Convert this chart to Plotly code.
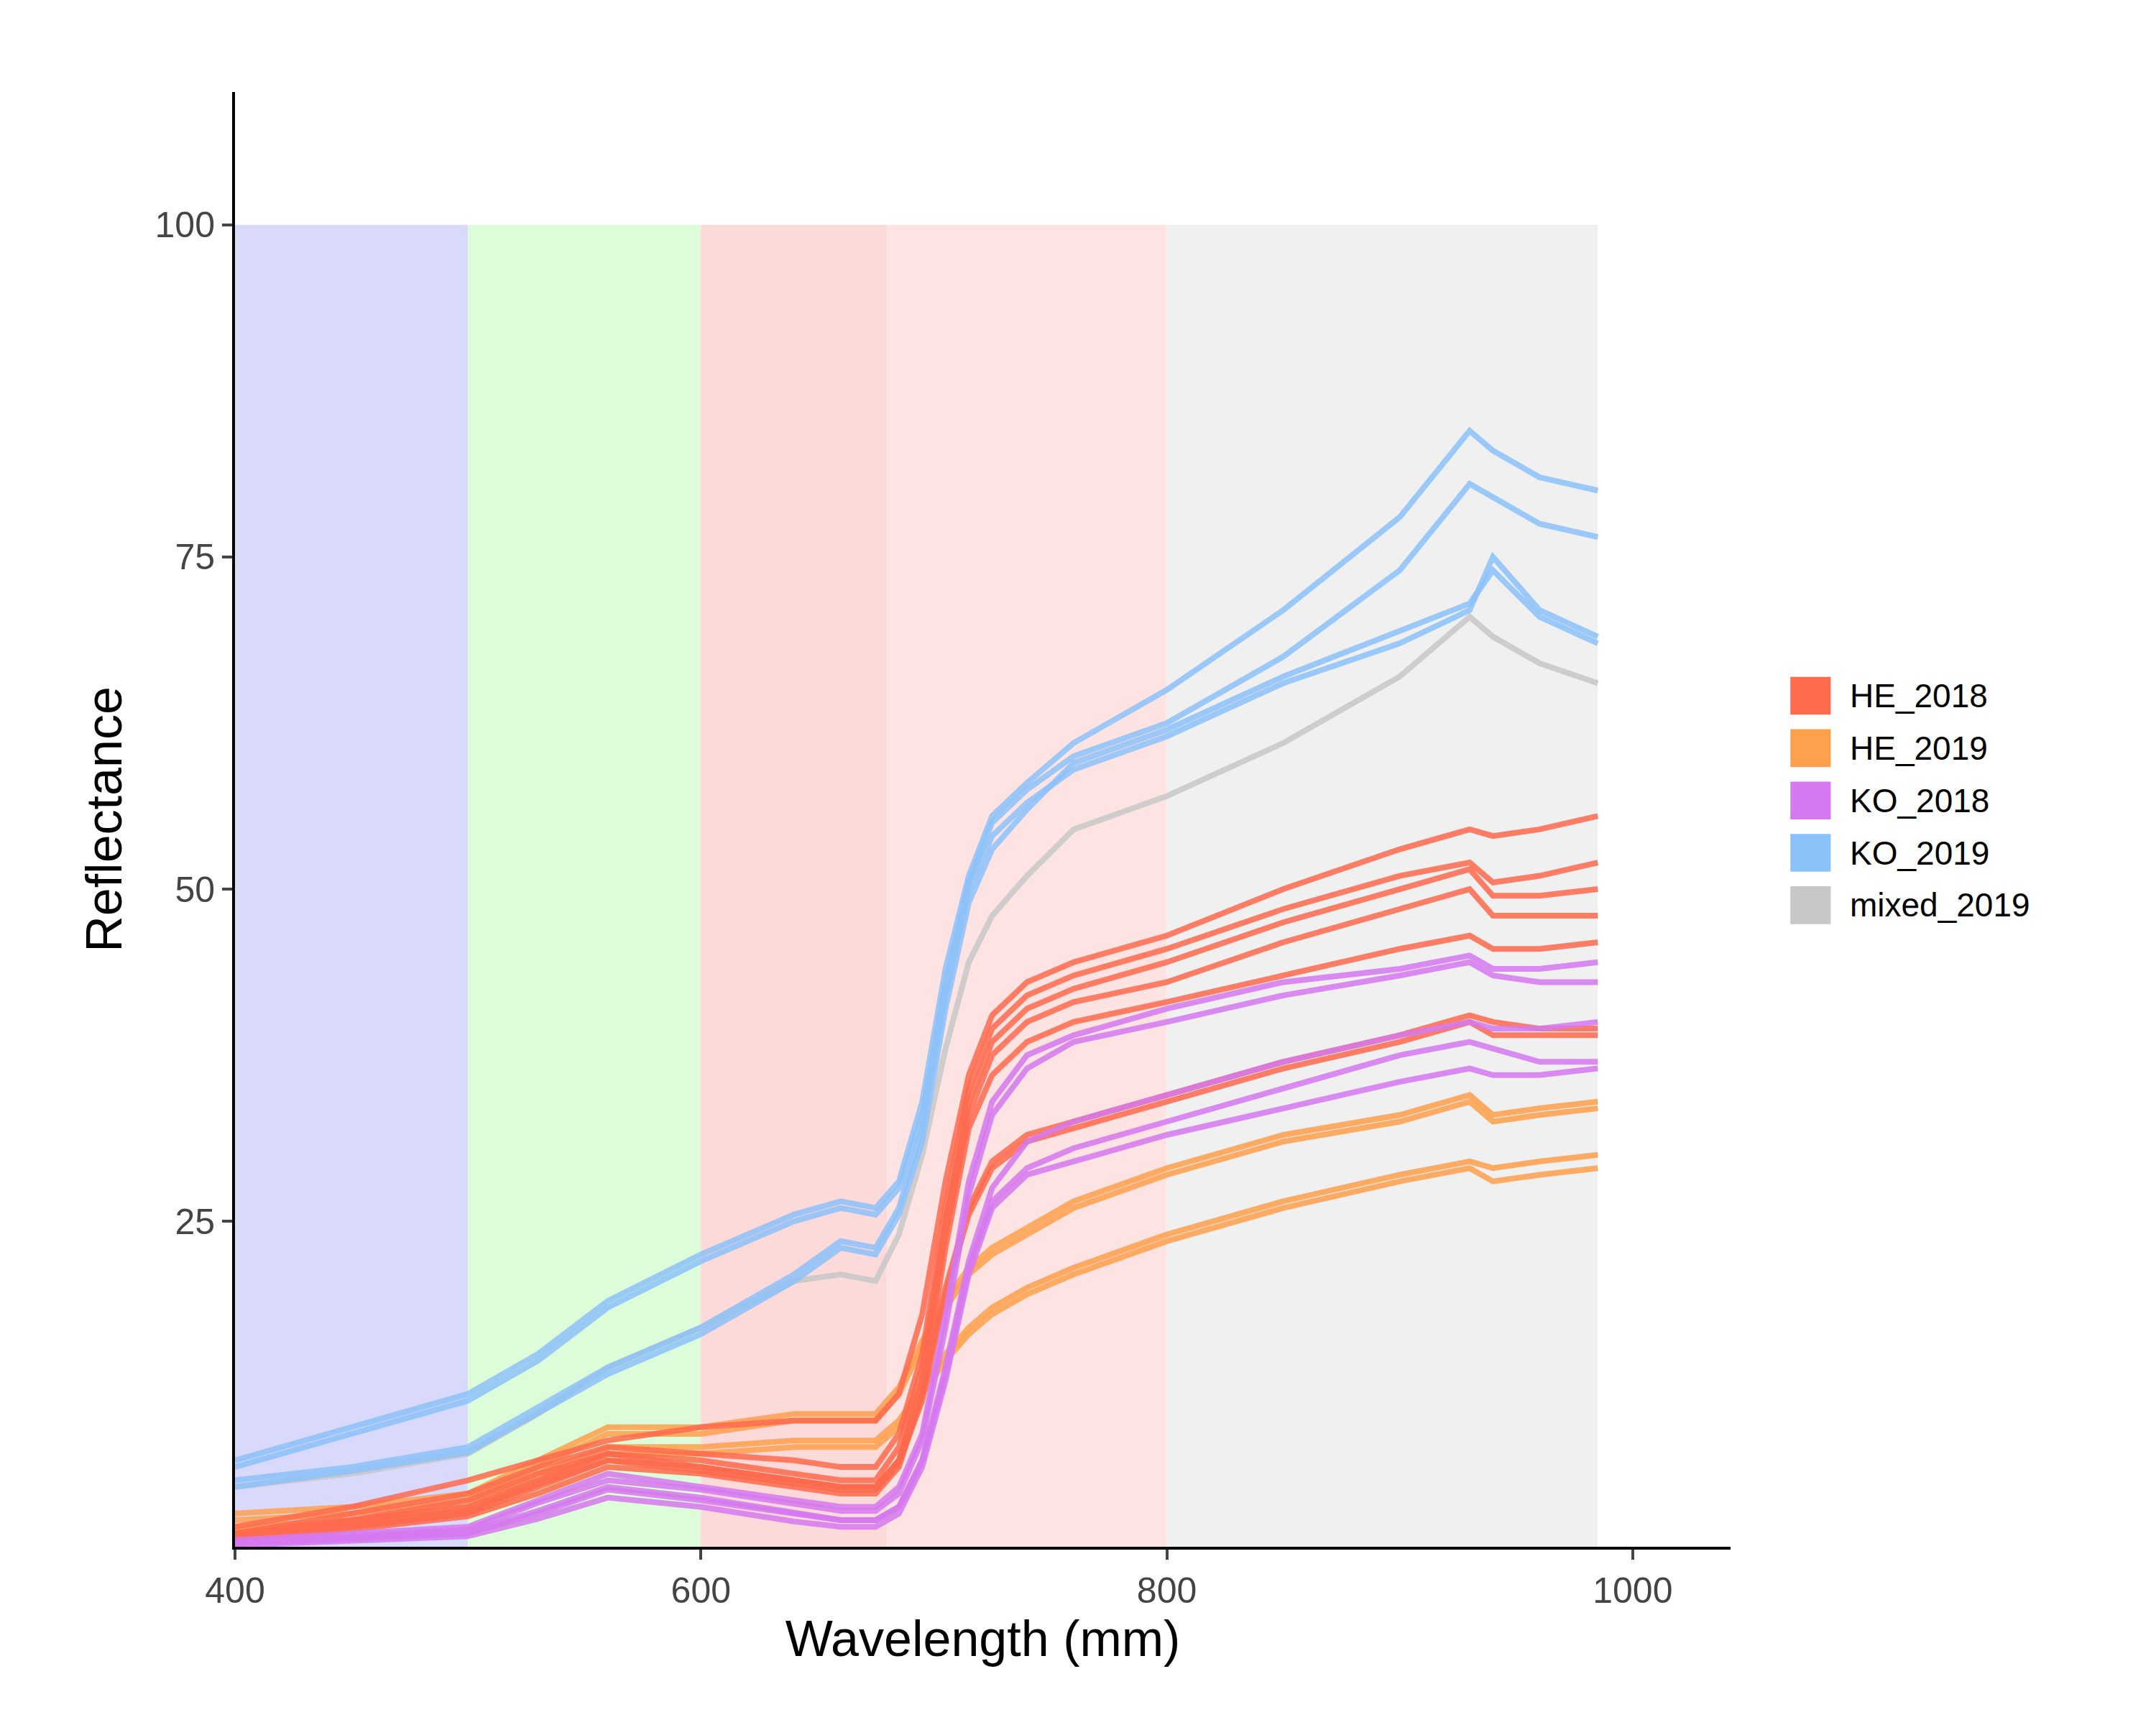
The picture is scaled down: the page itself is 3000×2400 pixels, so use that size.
import plotly.graph_objects as go

wl = [400, 450, 500, 530, 560, 600, 640, 660, 675, 685, 695, 705, 715, 725, 740, 760, 800, 850, 900, 930, 940, 960, 985]

ko_2019 = [
    [7.0, 9.5, 12.0, 15.0, 19.0, 22.5, 25.5, 26.5, 26.0, 28.0, 34.0, 44.0, 51.0, 55.5, 58.0, 61.0, 65.0, 71.0, 78.0, 84.5, 83.0, 81.0, 80.0],
    [6.5, 9.0, 11.5, 14.5, 18.5, 22.0, 25.0, 26.0, 25.5, 27.5, 33.0, 43.0, 50.5, 55.0, 57.5, 60.0, 62.5, 67.5, 74.0, 80.5, 79.5, 77.5, 76.5],
    [5.5, 6.5, 8.0, 11.0, 14.0, 17.0, 21.0, 23.5, 23.0, 26.0, 32.0, 42.0, 50.0, 54.0, 56.5, 59.0, 61.5, 65.5, 68.5, 71.0, 75.0, 71.0, 69.0],
    [5.0, 6.2, 7.6, 10.5, 13.5, 16.5, 20.5, 23.0, 22.5, 25.5, 31.0, 41.0, 49.0, 53.0, 56.0, 59.5, 62.0, 66.0, 69.5, 71.5, 74.0, 70.5, 68.5],
]
mixed_2019 = [
    [5.0, 6.0, 7.5, 10.5, 14.0, 17.0, 20.5, 21.0, 20.5, 24.0, 30.0, 38.0, 44.5, 48.0, 51.0, 54.5, 57.0, 61.0, 66.0, 70.5, 69.0, 67.0, 65.5],
]
he_2018 = [
    [2.0, 3.5, 5.5, 7.0, 8.5, 9.5, 10.0, 10.0, 10.0, 12.0, 18.0, 28.0, 36.0, 40.5, 43.0, 44.5, 46.5, 50.0, 53.0, 54.5, 54.0, 54.5, 55.5],
    [1.5, 3.0, 4.5, 6.5, 8.0, 7.5, 7.0, 6.5, 6.5, 9.0, 15.0, 26.0, 35.0, 39.5, 42.0, 43.5, 45.5, 48.5, 51.0, 52.0, 50.5, 51.0, 52.0],
    [1.2, 2.5, 4.0, 6.0, 7.5, 7.0, 6.0, 5.5, 5.5, 8.0, 14.0, 25.0, 34.0, 38.5, 41.0, 42.5, 44.5, 47.5, 50.0, 51.5, 49.5, 49.5, 50.0],
    [1.0, 2.0, 3.0, 5.0, 7.0, 6.5, 5.5, 5.0, 5.0, 7.0, 13.0, 24.0, 33.0, 37.5, 40.0, 41.5, 43.0, 46.0, 48.5, 50.0, 48.0, 48.0, 48.0],
    [1.0, 1.8, 2.8, 4.5, 6.5, 6.0, 5.0, 4.5, 4.5, 6.5, 12.0, 23.0, 32.0, 36.0, 38.5, 40.0, 41.5, 43.5, 45.5, 46.5, 45.5, 45.5, 46.0],
    [1.5, 2.5, 3.5, 5.5, 7.5, 6.5, 5.5, 5.0, 5.0, 7.0, 12.0, 20.0, 26.0, 29.5, 31.5, 32.5, 34.5, 37.0, 39.0, 40.5, 40.0, 39.5, 39.5],
    [1.2, 2.2, 3.2, 5.2, 7.0, 6.2, 5.2, 4.8, 4.8, 6.8, 11.5, 19.5, 25.5, 29.0, 31.0, 32.0, 34.0, 36.5, 38.5, 40.0, 39.0, 39.0, 39.0],
]
he_2019 = [
    [3.0, 3.5, 4.5, 7.0, 9.5, 9.5, 10.5, 10.5, 10.5, 12.5, 16.0, 19.0, 21.5, 23.0, 24.5, 26.5, 29.0, 31.5, 33.0, 34.5, 33.0, 33.5, 34.0],
    [2.5, 3.0, 4.0, 6.5, 9.0, 9.0, 10.0, 10.0, 10.0, 12.0, 15.5, 18.5, 21.0, 22.5, 24.0, 26.0, 28.5, 31.0, 32.5, 34.0, 32.5, 33.0, 33.5],
    [2.0, 2.5, 3.5, 6.0, 8.0, 8.0, 8.5, 8.5, 8.5, 10.0, 12.5, 15.0, 17.0, 18.5, 20.0, 21.5, 24.0, 26.5, 28.5, 29.5, 29.0, 29.5, 30.0],
    [1.8, 2.3, 3.2, 5.5, 7.5, 7.5, 8.0, 8.0, 8.0, 9.5, 12.0, 14.5, 16.5, 18.0, 19.5, 21.0, 23.5, 26.0, 28.0, 29.0, 28.0, 28.5, 29.0],
]
ko_2018 = [
    [1.0, 1.5, 2.0, 4.0, 6.0, 5.0, 4.0, 3.5, 3.5, 5.0, 9.0, 18.0, 28.0, 34.0, 37.5, 39.0, 41.0, 43.0, 44.0, 45.0, 44.0, 44.0, 44.5],
    [0.8, 1.3, 1.8, 3.8, 5.5, 4.8, 3.8, 3.2, 3.2, 4.5, 8.5, 17.0, 27.0, 33.0, 36.5, 38.5, 40.0, 42.0, 43.5, 44.5, 43.5, 43.0, 43.0],
    [0.8, 1.2, 1.6, 3.2, 5.0, 4.2, 3.0, 2.5, 2.5, 3.5, 7.0, 14.0, 22.0, 27.5, 31.0, 32.5, 34.5, 37.0, 39.0, 40.0, 39.5, 39.5, 40.0],
    [0.7, 1.1, 1.5, 3.0, 4.8, 4.0, 3.0, 2.5, 2.5, 3.5, 7.0, 13.5, 21.5, 26.5, 29.0, 30.5, 32.5, 35.0, 37.5, 38.5, 38.0, 37.0, 37.0],
    [0.6, 1.0, 1.3, 2.6, 4.2, 3.5, 2.4, 2.0, 2.0, 3.0, 6.5, 13.0, 21.0, 26.0, 28.5, 29.5, 31.5, 33.5, 35.5, 36.5, 36.0, 36.0, 36.5],
]

groups = ["HE_2018", "HE_2019", "KO_2018", "KO_2019", "mixed_2019"]
group_data = [he_2018, he_2019, ko_2018, ko_2019, mixed_2019]
colors = ["#ff6a4d", "#ffa04d", "#d679f0", "#8cc2fa", "#c8c8c8"]

# spectral bands drawn behind the curves
band_edges = [400, 500, 600, 680, 800, 985]
band_colors = ["#d9d9fc", "#ddfcd9", "#fcdada", "#fde4e2", "#f0f0f0"]

fig = go.Figure()

for i in range(len(band_colors)):
    fig.add_shape(type="rect", xref="x", yref="y",
                  x0=band_edges[i], x1=band_edges[i + 1], y0=0, y1=100,
                  fillcolor=band_colors[i], line_width=0, layer="below")

# draw order: mixed and blue behind, then orange, red, purple
draw_order = [4, 3, 1, 0, 2]
for g in draw_order:
    for curve in group_data[g]:
        fig.add_trace(go.Scatter(x=wl, y=curve, mode="lines",
                                 line=dict(color=colors[g], width=8),
                                 opacity=0.85, showlegend=False,
                                 hoverinfo="skip"))

# legend drawn by hand so the keys are big squares
key_x0, key_w, key_h = 1.04, 0.027, 0.026
row_y = [0.585, 0.549, 0.513, 0.477, 0.441]
for g in range(len(groups)):
    fig.add_shape(type="rect", xref="paper", yref="paper",
                  x0=key_x0, x1=key_x0 + key_w,
                  y0=row_y[g] - key_h / 2, y1=row_y[g] + key_h / 2,
                  fillcolor=colors[g], line_width=0)
    fig.add_annotation(xref="paper", yref="paper", x=key_x0 + key_w + 0.012,
                       y=row_y[g], text=groups[g], showarrow=False,
                       xanchor="left", yanchor="middle", font=dict(size=46))

fig.update_layout(
    width=3000, height=2400,
    plot_bgcolor="white", paper_bgcolor="white",
    font=dict(family="Liberation Sans, Arial, sans-serif", color="black"),
    margin=dict(l=319, r=600, t=120, b=256),
    showlegend=False,
    xaxis=dict(range=[400, 1042], tickvals=[400, 600, 800, 1000],
               showgrid=False, zeroline=False, showline=True, linecolor="black",
               linewidth=4, ticks="outside", ticklen=14, tickwidth=4,
               tickfont=dict(size=50, color="#444"),
               title=dict(text="Wavelength (mm)", font=dict(size=70), standoff=12)),
    yaxis=dict(range=[0.5, 110], tickvals=[25, 50, 75, 100],
               showgrid=False, zeroline=False, showline=True, linecolor="black",
               linewidth=4, ticks="outside", ticklen=14, tickwidth=4,
               tickfont=dict(size=50, color="#444"),
               title=dict(text="Reflectance", font=dict(size=70), standoff=24)),
)

fig.write_html("out.html")
